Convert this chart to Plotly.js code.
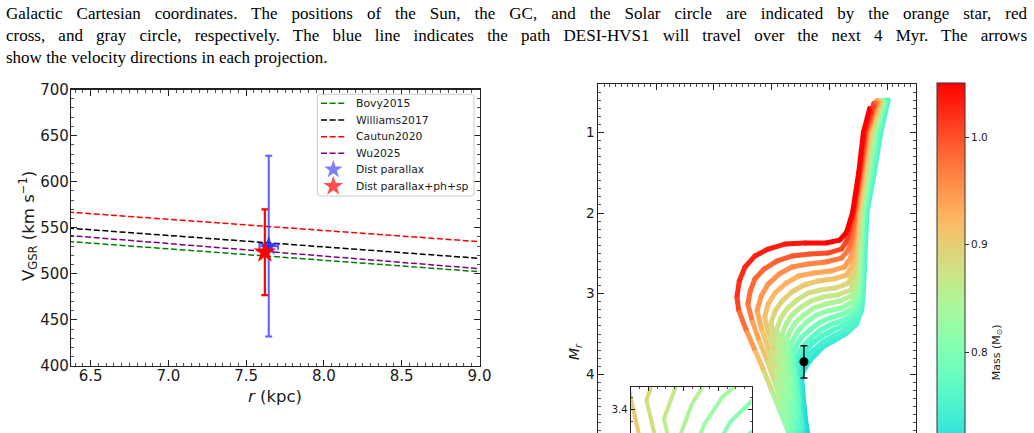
<!DOCTYPE html>
<html>
<head>
<meta charset="utf-8">
<script src="https://cdn.plot.ly/plotly-3.0.1.min.js"></script>
<style>
  html, body { margin: 0; padding: 0; background: #fff; overflow: hidden; width: 1034px; height: 433px; }
  #chart { position: absolute; left: 0; top: 0; width: 1034px; height: 640px; }
  .cap { position: absolute; left: 6px; width: 1021px; font-family: "Liberation Serif", "Times New Roman", serif;
         font-size: 17px; line-height: 22.3px; color: #000; z-index: 5; white-space: nowrap; }
  .cap.j { text-align: justify; text-align-last: justify; white-space: normal; }
</style>
</head>
<body>
<div id="chart"></div>
<div class="cap j" style="top:2.6px">Galactic Cartesian coordinates. The positions of the Sun, the GC, and the Solar circle are indicated by the orange star, red</div>
<div class="cap j" style="top:24.9px">cross, and gray circle, respectively. The blue line indicates the path DESI-HVS1 will travel over the next 4 Myr. The arrows</div>
<div class="cap" style="top:47.2px">show the velocity directions in each projection.</div>
<script>
// ---------- Left panel: escape-velocity curves and the star's V_GSR ----------
const rGrid = [6.3, 7.0, 7.5, 8.0, 8.5, 9.0];
const vescBovy2015     = [535.8, 527.1, 520.9, 514.7, 508.5, 502.3];
const vescWilliams2017 = [550.3, 541.6, 535.4, 529.2, 523.0, 516.8];
const vescCautun2020   = [567.7, 559.2, 553.1, 547.0, 541.0, 534.9];
const vescWu2025       = [542.4, 532.9, 526.1, 519.2, 512.4, 505.6];
const modelNames  = ['Bovy2015', 'Williams2017', 'Cautun2020', 'Wu2025'];
const modelColors = ['green', 'black', 'red', 'purple'];

const estLabels = ['Dist parallax', 'Dist parallax+ph+sp'];
const estR      = [7.645, 7.62];
const estRerr   = [0.06, 0.0];
const estV      = [530.0, 523.5];
const estVerr   = [98.0, 46.5];

// ---------- Right panel: isochrones coloured by stellar mass ----------
const iso1_col  = [0.770, 0.759, 0.751, 0.740, 0.730, 0.718, 0.694, 0.658, 0.623, 0.594, 0.571, 0.554, 0.544, 0.540, 0.543, 0.556, 0.571, 0.586, 0.600, 0.614, 0.628, 0.639];
const iso1_Mr   = [0.70, 1.00, 1.49, 2.00, 2.235, 2.335, 2.372, 2.372, 2.384, 2.446, 2.533, 2.669, 2.843, 3.041, 3.202, 3.450, 3.698, 3.946, 4.194, 4.442, 4.690, 4.876];
const iso1_mass = [1.05, 1.05, 1.05, 1.05, 1.05, 1.05, 1.045, 1.04, 1.035, 1.03, 1.03, 1.025, 1.022, 1.02, 0.998, 0.965, 0.932, 0.899, 0.866, 0.833, 0.800, 0.785];

const iso2_col  = [0.777, 0.762, 0.753, 0.742, 0.735, 0.730, 0.721, 0.697, 0.666, 0.635, 0.609, 0.587, 0.571, 0.563, 0.559, 0.566, 0.578, 0.592, 0.604, 0.616, 0.626, 0.632, 0.642];
const iso2_Mr   = [0.64, 1.00, 1.49, 2.00, 2.235, 2.347, 2.446, 2.496, 2.508, 2.533, 2.595, 2.694, 2.818, 2.967, 3.128, 3.326, 3.574, 3.822, 4.070, 4.318, 4.566, 4.690, 4.876];
const iso2_mass = [1.01, 1.01, 1.01, 1.01, 1.01, 1.01, 1.008, 1.003, 0.998, 0.994, 0.99, 0.987, 0.984, 0.982, 0.98, 0.956, 0.927, 0.897, 0.867, 0.838, 0.808, 0.793, 0.778];

const iso3_col  = [0.782, 0.764, 0.755, 0.744, 0.740, 0.733, 0.721, 0.694, 0.663, 0.635, 0.613, 0.594, 0.582, 0.575, 0.583, 0.595, 0.607, 0.618, 0.626, 0.635, 0.645];
const iso3_Mr   = [0.61, 1.00, 1.49, 2.00, 2.285, 2.459, 2.558, 2.607, 2.632, 2.669, 2.756, 2.880, 3.029, 3.214, 3.450, 3.698, 3.946, 4.194, 4.442, 4.690, 4.876];
const iso3_mass = [0.975, 0.975, 0.975, 0.975, 0.975, 0.974, 0.972, 0.968, 0.963, 0.958, 0.954, 0.951, 0.948, 0.945, 0.920, 0.893, 0.866, 0.839, 0.813, 0.786, 0.771];

const iso4_col  = [0.785, 0.766, 0.757, 0.746, 0.742, 0.737, 0.726, 0.702, 0.673, 0.647, 0.625, 0.606, 0.594, 0.588, 0.595, 0.607, 0.617, 0.626, 0.633, 0.638, 0.647];
const iso4_Mr   = [0.60, 1.00, 1.49, 2.00, 2.335, 2.558, 2.669, 2.719, 2.744, 2.781, 2.868, 2.991, 3.128, 3.289, 3.512, 3.760, 4.008, 4.256, 4.504, 4.690, 4.876];
const iso4_mass = [0.945, 0.945, 0.945, 0.945, 0.945, 0.944, 0.942, 0.938, 0.933, 0.929, 0.925, 0.921, 0.918, 0.915, 0.893, 0.869, 0.845, 0.821, 0.797, 0.779, 0.764];

const iso5_col  = [0.787, 0.768, 0.759, 0.748, 0.743, 0.740, 0.730, 0.707, 0.680, 0.656, 0.635, 0.618, 0.606, 0.599, 0.606, 0.616, 0.626, 0.633, 0.639, 0.641, 0.650];
const iso5_Mr   = [0.60, 1.00, 1.49, 2.00, 2.397, 2.645, 2.768, 2.818, 2.843, 2.892, 2.979, 3.091, 3.214, 3.363, 3.574, 3.822, 4.070, 4.318, 4.566, 4.690, 4.876];
const iso5_mass = [0.92, 0.92, 0.92, 0.92, 0.92, 0.919, 0.917, 0.913, 0.908, 0.904, 0.900, 0.896, 0.893, 0.890, 0.871, 0.849, 0.827, 0.805, 0.783, 0.772, 0.757];

const iso6_col  = [0.789, 0.771, 0.761, 0.750, 0.745, 0.742, 0.733, 0.711, 0.685, 0.663, 0.644, 0.628, 0.616, 0.609, 0.615, 0.625, 0.632, 0.639, 0.642, 0.644, 0.652];
const iso6_Mr   = [0.60, 1.00, 1.49, 2.00, 2.459, 2.731, 2.868, 2.929, 2.954, 2.991, 3.078, 3.177, 3.301, 3.438, 3.636, 3.884, 4.132, 4.380, 4.566, 4.690, 4.876];
const iso6_mass = [0.895, 0.895, 0.895, 0.895, 0.895, 0.894, 0.892, 0.888, 0.883, 0.879, 0.875, 0.871, 0.868, 0.865, 0.849, 0.829, 0.809, 0.790, 0.775, 0.765, 0.750];

const iso7_col  = [0.790, 0.773, 0.763, 0.752, 0.747, 0.745, 0.737, 0.714, 0.689, 0.668, 0.651, 0.635, 0.625, 0.618, 0.623, 0.631, 0.638, 0.643, 0.646, 0.654];
const iso7_Mr   = [0.60, 1.00, 1.49, 2.00, 2.521, 2.818, 2.954, 3.016, 3.041, 3.091, 3.165, 3.264, 3.376, 3.512, 3.698, 3.946, 4.194, 4.442, 4.690, 4.876];
const iso7_mass = [0.875, 0.875, 0.875, 0.875, 0.875, 0.874, 0.872, 0.868, 0.864, 0.860, 0.856, 0.852, 0.848, 0.845, 0.831, 0.813, 0.795, 0.776, 0.758, 0.744];

const iso8_col  = [0.792, 0.775, 0.765, 0.754, 0.749, 0.747, 0.738, 0.718, 0.694, 0.673, 0.656, 0.642, 0.632, 0.625, 0.629, 0.636, 0.642, 0.646, 0.649, 0.656];
const iso8_Mr   = [0.60, 1.00, 1.49, 2.00, 2.583, 2.892, 3.029, 3.091, 3.128, 3.177, 3.264, 3.351, 3.462, 3.586, 3.760, 4.008, 4.256, 4.504, 4.690, 4.876];
const iso8_mass = [0.855, 0.855, 0.855, 0.855, 0.855, 0.854, 0.852, 0.848, 0.844, 0.840, 0.836, 0.832, 0.828, 0.825, 0.813, 0.797, 0.780, 0.763, 0.751, 0.738];

const iso9_col  = [0.794, 0.777, 0.767, 0.756, 0.751, 0.749, 0.740, 0.721, 0.697, 0.678, 0.661, 0.647, 0.639, 0.632, 0.635, 0.641, 0.646, 0.650, 0.651, 0.658];
const iso9_Mr   = [0.60, 1.00, 1.49, 2.00, 2.645, 2.967, 3.103, 3.177, 3.214, 3.264, 3.351, 3.450, 3.549, 3.661, 3.822, 4.070, 4.318, 4.566, 4.690, 4.876];
const iso9_mass = [0.83, 0.83, 0.83, 0.83, 0.83, 0.829, 0.827, 0.823, 0.819, 0.815, 0.811, 0.807, 0.803, 0.800, 0.792, 0.778, 0.764, 0.750, 0.742, 0.729];

const iso10_col  = [0.796, 0.780, 0.769, 0.758, 0.752, 0.751, 0.742, 0.723, 0.701, 0.682, 0.666, 0.652, 0.644, 0.637, 0.639, 0.645, 0.649, 0.654, 0.659];
const iso10_Mr   = [0.60, 1.00, 1.49, 2.00, 2.706, 3.029, 3.177, 3.252, 3.301, 3.363, 3.450, 3.537, 3.636, 3.735, 3.884, 4.132, 4.380, 4.690, 4.876];
const iso10_mass = [0.805, 0.805, 0.805, 0.805, 0.805, 0.804, 0.802, 0.798, 0.794, 0.790, 0.786, 0.782, 0.778, 0.775, 0.768, 0.756, 0.744, 0.730, 0.720];

const iso11_col  = [0.797, 0.782, 0.772, 0.759, 0.754, 0.752, 0.743, 0.725, 0.704, 0.685, 0.670, 0.658, 0.649, 0.642, 0.644, 0.648, 0.651, 0.656, 0.661];
const iso11_Mr   = [0.60, 1.00, 1.49, 2.00, 2.768, 3.078, 3.239, 3.326, 3.376, 3.450, 3.537, 3.624, 3.710, 3.810, 3.946, 4.194, 4.442, 4.690, 4.876];
const iso11_mass = [0.785, 0.785, 0.785, 0.785, 0.785, 0.784, 0.782, 0.778, 0.774, 0.770, 0.766, 0.762, 0.758, 0.755, 0.749, 0.738, 0.728, 0.718, 0.710];

const iso12_col  = [0.799, 0.784, 0.774, 0.761, 0.756, 0.754, 0.745, 0.726, 0.706, 0.687, 0.671, 0.661, 0.652, 0.645, 0.647, 0.651, 0.654, 0.658, 0.663];
const iso12_Mr   = [0.60, 1.00, 1.49, 2.00, 2.830, 3.115, 3.289, 3.388, 3.450, 3.524, 3.611, 3.698, 3.785, 3.872, 4.008, 4.256, 4.504, 4.690, 4.876];
const iso12_mass = [0.77, 0.77, 0.77, 0.77, 0.77, 0.769, 0.767, 0.763, 0.759, 0.755, 0.751, 0.747, 0.743, 0.740, 0.734, 0.726, 0.718, 0.711, 0.704];

const iso13_col  = [0.801, 0.786, 0.776, 0.763, 0.758, 0.756, 0.747, 0.728, 0.707, 0.689, 0.675, 0.664, 0.656, 0.649, 0.650, 0.653, 0.657, 0.659, 0.664];
const iso13_Mr   = [0.60, 1.00, 1.49, 2.00, 2.892, 3.152, 3.338, 3.450, 3.524, 3.599, 3.686, 3.760, 3.847, 3.934, 4.070, 4.318, 4.566, 4.690, 4.876];
const iso13_mass = [0.76, 0.76, 0.76, 0.76, 0.76, 0.759, 0.757, 0.753, 0.749, 0.745, 0.741, 0.737, 0.733, 0.730, 0.725, 0.718, 0.711, 0.707, 0.700];

const iso14_col  = [0.802, 0.789, 0.778, 0.765, 0.759, 0.756, 0.747, 0.728, 0.707, 0.689, 0.677, 0.666, 0.658, 0.652, 0.653, 0.656, 0.660, 0.663, 0.666];
const iso14_Mr   = [0.60, 1.00, 1.49, 2.00, 2.954, 3.202, 3.376, 3.500, 3.586, 3.661, 3.748, 3.834, 3.921, 4.008, 4.132, 4.380, 4.628, 4.752, 4.876];
const iso14_mass = [0.75, 0.75, 0.75, 0.75, 0.75, 0.749, 0.747, 0.743, 0.739, 0.735, 0.731, 0.727, 0.723, 0.720, 0.716, 0.711, 0.706, 0.703, 0.698];

// the star on the CMD
const hvsCol   = [0.656];
const hvsMr    = [3.844];
const hvsMrErr = [0.20];

// ---------- drawing ----------
const isochrones = [
  [iso1_col, iso1_Mr, iso1_mass], [iso2_col, iso2_Mr, iso2_mass], [iso3_col, iso3_Mr, iso3_mass],
  [iso4_col, iso4_Mr, iso4_mass], [iso5_col, iso5_Mr, iso5_mass], [iso6_col, iso6_Mr, iso6_mass],
  [iso7_col, iso7_Mr, iso7_mass], [iso8_col, iso8_Mr, iso8_mass], [iso9_col, iso9_Mr, iso9_mass],
  [iso10_col, iso10_Mr, iso10_mass], [iso11_col, iso11_Mr, iso11_mass], [iso12_col, iso12_Mr, iso12_mass],
  [iso13_col, iso13_Mr, iso13_mass], [iso14_col, iso14_Mr, iso14_mass]
];

const H = 640, W = 1034;
const CMIN = 0.55, CMAX = 1.05;
const FONT = 'DejaVu Sans', INK = '#1a1a1a';

// matplotlib-style "rainbow" colormap
function rainbowRGB(t) {
  t = Math.max(0, Math.min(1, t));
  const r = Math.min(1, Math.abs(2 * t - 0.5));
  const g = Math.sin(Math.PI * t);
  const b = Math.cos(Math.PI * t / 2);
  return 'rgb(' + Math.round(255 * r) + ',' + Math.round(255 * g) + ',' + Math.round(255 * b) + ')';
}
const rainbowScale = [];
for (let i = 0; i <= 40; i++) rainbowScale.push([i / 40, rainbowRGB(i / 40)]);
function massColor(m) { return rainbowRGB((m - CMIN) / (CMAX - CMIN)); }

// each isochrone segment takes the colour of its mean mass; segments are grouped by colour
function isochroneTraces(xa, ya, width) {
  const bins = new Map();
  const step = 0.004;
  isochrones.forEach(([cx, my, ms]) => {
    for (let i = 0; i < cx.length - 1; i++) {
      const key = Math.round(((ms[i] + ms[i + 1]) / 2) / step);
      if (!bins.has(key)) bins.set(key, { x: [], y: [] });
      const b = bins.get(key);
      b.x.push(cx[i], cx[i + 1], null);
      b.y.push(my[i], my[i + 1], null);
    }
  });
  const out = [];
  const vx = [], vy = [], vm = [];
  isochrones.forEach(([cx, my, ms]) => { vx.push(...cx); vy.push(...my); vm.push(...ms); });
  out.push({ type: 'scatter', mode: 'markers', x: vx, y: vy, xaxis: xa, yaxis: ya, showlegend: false, hoverinfo: 'skip',
             marker: { size: width, color: vm, coloraxis: 'coloraxis', line: { width: 0 } } });
  [...bins.keys()].sort((a, b) => a - b).forEach(k => {
    out.push({ type: 'scatter', mode: 'lines', x: bins.get(k).x, y: bins.get(k).y, xaxis: xa, yaxis: ya,
               showlegend: false, hoverinfo: 'skip', connectgaps: false,
               line: { color: massColor(k * step), width: width } });
  });
  return out;
}

const dash = '6px,2.6px';
const vescSeries = [vescBovy2015, vescWilliams2017, vescCautun2020, vescWu2025];
const traces = vescSeries.map((v, i) => ({
  x: rGrid, y: v, mode: 'lines', name: modelNames[i], showlegend: false, hoverinfo: 'skip',
  line: { color: modelColors[i], width: 1.5, dash: dash }, xaxis: 'x', yaxis: 'y'
}));
traces.push(
  { x: [estR[0]], y: [estV[0]], mode: 'markers', name: estLabels[0], xaxis: 'x', yaxis: 'y', showlegend: false,
    marker: { symbol: 'star', size: 15, color: 'rgba(40,40,255,0.85)', line: { width: 0 } },
    error_y: { type: 'data', array: [estVerr[0]], color: 'rgba(40,40,255,0.75)', thickness: 2, width: 3.5 },
    error_x: { type: 'data', array: [estRerr[0]], color: 'rgba(40,40,255,0.75)', thickness: 2, width: 3.5 } },
  { x: [estR[1]], y: [estV[1]], mode: 'markers', name: estLabels[1], xaxis: 'x', yaxis: 'y', showlegend: false,
    marker: { symbol: 'star', size: 17, color: 'red', line: { width: 0 } },
    error_y: { type: 'data', array: [estVerr[1]], color: 'red', thickness: 2.2, width: 3.5 } }
);

traces.push(...isochroneTraces('x2', 'y2', 5));
traces.push({ x: hvsCol, y: hvsMr, mode: 'markers', xaxis: 'x2', yaxis: 'y2', showlegend: false, hoverinfo: 'skip',
              marker: { color: 'black', size: 9 },
              error_y: { type: 'data', array: hvsMrErr, color: '#111', thickness: 1.5, width: 3.5 } });
traces.push(...isochroneTraces('x3', 'y3', 4));
traces.push({ x: hvsCol, y: hvsMr, mode: 'markers', xaxis: 'x3', yaxis: 'y3', showlegend: false, hoverinfo: 'skip',
              marker: { color: 'black', size: 8 },
              error_y: { type: 'data', array: hvsMrErr, color: '#111', thickness: 1.5, width: 3.5 } });

// ---------- legend of the left panel (pixel frame x4/y4) ----------
const lgBox = { x0: 317.3, x1: 474, y0: 94.3, y1: 196, r: 3 };
const lgRows = [103.3, 120, 136.7, 153.3, 169.6, 186.2];
const lgSampleX = [321, 345], lgStarX = 333.3, lgTextX = 353.5;
const lgShapes = [];
const lgNotes = [];
{
  const b = lgBox;
  lgShapes.push({ type: 'path', xref: 'x4', yref: 'y4', layer: 'below',
    path: `M ${b.x0 + b.r},${b.y0} L ${b.x1 - b.r},${b.y0} Q ${b.x1},${b.y0} ${b.x1},${b.y0 + b.r} L ${b.x1},${b.y1 - b.r} Q ${b.x1},${b.y1} ${b.x1 - b.r},${b.y1} L ${b.x0 + b.r},${b.y1} Q ${b.x0},${b.y1} ${b.x0},${b.y1 - b.r} L ${b.x0},${b.y0 + b.r} Q ${b.x0},${b.y0} ${b.x0 + b.r},${b.y0} Z`,
    fillcolor: 'rgba(255,255,255,0.8)', line: { color: '#cccccc', width: 1 } });
  modelNames.forEach((n, i) => {
    lgShapes.push({ type: 'line', xref: 'x4', yref: 'y4', layer: 'above', x0: lgSampleX[0], x1: lgSampleX[1], y0: lgRows[i], y1: lgRows[i],
                    line: { color: modelColors[i], width: 1.5, dash: dash } });
  });
  modelNames.concat(estLabels).forEach((n, i) => {
    lgNotes.push({ text: n, xref: 'x4', yref: 'y4', x: lgTextX, y: lgRows[i], xanchor: 'left', yanchor: 'middle',
                   showarrow: false, font: { family: FONT, size: 10.8, color: INK } });
  });
}
traces.push({ x: [lgStarX, lgStarX], y: [lgRows[4], lgRows[5]], mode: 'markers', xaxis: 'x4', yaxis: 'y4',
              showlegend: false, hoverinfo: 'skip',
              marker: { symbol: 'star', size: [14, 15], color: ['rgba(40,40,255,0.85)', 'red'], line: { width: 0 } } });

function ax(extra) {
  return Object.assign({
    showline: true, linecolor: '#222', linewidth: 1.1, mirror: 'allticks',
    ticks: 'inside', ticklen: 6, tickwidth: 1, tickcolor: '#222',
    showgrid: false, zeroline: false,
    tickfont: { family: FONT, size: 15, color: INK }
  }, extra);
}
function minor(d, len) { return { dtick: d, ticks: 'inside', ticklen: len, tickwidth: 0.8, tickcolor: '#222', showgrid: false }; }

const layout = {
  width: W, height: H, margin: { l: 0, r: 0, t: 0, b: 0 },
  paper_bgcolor: '#fff', plot_bgcolor: 'rgba(0,0,0,0)', hovermode: false,
  font: { family: FONT, color: INK },
  showlegend: false,
  xaxis: ax({ domain: [71 / W, 479.5 / W], anchor: 'y', range: [6.374, 9.0], tick0: 6.5, dtick: 0.5, tickformat: '.1f',
              ticklabelstandoff: -4, minor: minor(0.05, 3) }),
  yaxis: ax({ domain: [(H - 366) / H, (H - 89.5) / H], anchor: 'x', range: [400, 700], dtick: 50,
              ticklabelstandoff: -2, minor: minor(10, 3) }),
  xaxis2: ax({ domain: [598.3 / W, 916 / W], anchor: 'y2', range: [0.3, 0.85], tick0: 0, dtick: 0.1, minor: minor(0.01, 3),
               showticklabels: false }),
  yaxis2: ax({ domain: [(H - 622) / H, (H - 84) / H], anchor: 'x2', range: [7.07, 0.40],
               tickmode: 'array', tickvals: [1, 2, 3, 4], minor: Object.assign(minor(0.1, 3), { tickmode: 'linear', tick0: 0 }),
               tickfont: { family: FONT, size: 13.5, color: INK } }),
  xaxis3: ax({ domain: [630.7 / W, 751.7 / W], anchor: 'y3', range: [0.590, 0.659], tick0: 0, dtick: 0.02, ticklen: 4, minor: minor(0.005, 2),
               showticklabels: false }),
  yaxis3: ax({ domain: [(H - 545) / H, (H - 387.3) / H], anchor: 'x3', range: [3.96, 3.309],
               tickmode: 'array', tickvals: [3.4], ticktext: ['3.4'], ticklen: 4,
               minor: Object.assign(minor(0.05, 2), { tickmode: 'linear', tick0: 0 }),
               tickfont: { family: FONT, size: 10, color: INK } }),
  xaxis4: { domain: [0, 1], anchor: 'y4', range: [0, W], visible: false, fixedrange: true },
  yaxis4: { domain: [0, 1], anchor: 'x4', range: [H, 0], visible: false, fixedrange: true },
  coloraxis: {
    colorscale: rainbowScale, cmin: CMIN, cmax: CMAX,
    colorbar: {
      x: 936.7 / W, xanchor: 'left', xpad: 0, y: (H - 83.3) / H, yanchor: 'top', ypad: 0,
      lenmode: 'pixels', len: 538, thickness: 27.5, thicknessmode: 'pixels',
      outlinewidth: 1, outlinecolor: '#333',
      ticks: 'outside', ticklen: 4, tickwidth: 1, tickcolor: '#333',
      tickmode: 'array', tickvals: [0.8, 0.9, 1.0], ticktext: ['0.8', '0.9', '1.0'],
      tickfont: { family: FONT, size: 10.5, color: INK },
      title: { text: 'Mass (M<sub>⊙</sub>)', side: 'right', font: { family: FONT, size: 11, color: INK } }
    }
  },
  shapes: lgShapes,
  annotations: [
    { text: 'V<sub>GSR</sub> (km s<sup>−1</sup>)', xref: 'paper', yref: 'paper', x: 28 / W, y: (H - 226) / H,
      textangle: -90, showarrow: false, xanchor: 'center', yanchor: 'middle', font: { family: FONT, size: 16.5, color: INK } },
    { text: '<i>r</i> (kpc)', xref: 'paper', yref: 'paper', x: 275 / W, y: (H - 396) / H,
      showarrow: false, xanchor: 'center', yanchor: 'middle', font: { family: FONT, size: 16.5, color: INK } },
    { text: '<i>M</i><sub><i>r</i></sub>', xref: 'paper', yref: 'paper', x: 575 / W, y: (H - 352) / H,
      textangle: -90, showarrow: false, xanchor: 'center', yanchor: 'middle', font: { family: FONT, size: 14, color: INK } }
  ].concat(lgNotes)
};

Plotly.newPlot('chart', traces, layout, { staticPlot: true, displayModeBar: false });
</script>
</body>
</html>
